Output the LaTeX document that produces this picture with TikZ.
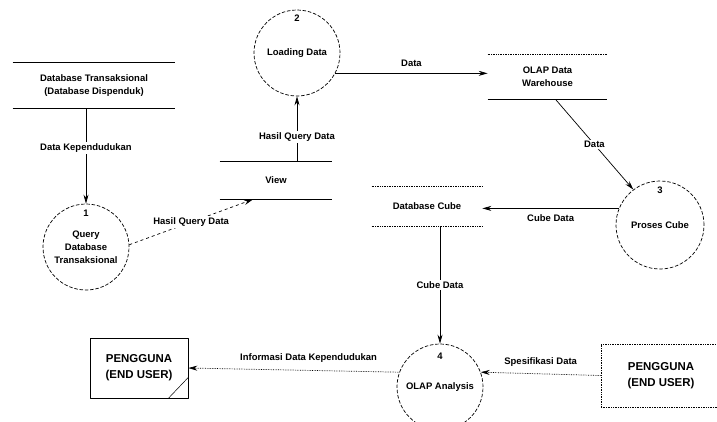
\documentclass[tikz,border=0pt]{standalone}
\usepackage{fontspec}
\setmainfont{Liberation Sans}
\usetikzlibrary{arrows.meta,positioning}

\tikzset{
  proses/.style={draw,circle,dash pattern=on 3.5bp off 1.8bp,minimum size=86bp,inner sep=0pt,align=center},
  nomor/.style={inner sep=0pt},
  simpan/.style={inner sep=0pt,align=center},
  entitas/.style={draw,inner sep=0pt,align=center,font=\fontsize{11.5}{16}\selectfont\bfseries},
  lbl/.style={fill=white,inner sep=1.5bp},
  titik/.style={densely dotted},
}

\begin{document}
\begin{tikzpicture}[>={Stealth[length=9bp,width=5bp]},line join=bevel,x=1bp,y=-1bp,
  line width=0.7bp,font=\fontsize{9.5}{13}\selectfont\bfseries]
\useasboundingbox (0,0) rectangle (717,421);
\clip (0,0) rectangle (717,421);
%% data stores
\node (dbt) at (94,85.5) [simpan,minimum width=162bp,minimum height=45bp] {Database Transaksional\\(Database Dispenduk)};
\node (vw) at (276,180.5) [simpan,minimum width=112bp,minimum height=37bp] {View};
\node (od) at (547.5,77) [simpan,minimum width=119bp,minimum height=44bp] {OLAP Data\\Warehouse};
\node (dc) at (427,206.5) [simpan,minimum width=110bp,minimum height=39bp] {Database Cube};
\draw (dbt.north west) -- (dbt.north east);
\draw (dbt.south west) -- (dbt.south east);
\draw (vw.north west) -- (vw.north east);
\draw (vw.south west) -- (vw.south east);
\draw [titik] (od.north west) -- (od.north east);
\draw (od.south west) -- (od.south east);
\draw [titik] (dc.north west) -- (dc.north east);
\draw [titik] (dc.south west) -- (dc.south east);
%% processes
\node (p1) at (86,247) [proses] {Query\\Database\\Transaksional};
\node (p2) at (297,53) [proses] {Loading Data};
\node (p3) at (660,225) [proses,minimum size=88bp] {Proses Cube};
\node (p4) at (440,387) [proses] {OLAP Analysis};
\node (n1) at ([yshift=-10bp]p1.north) [nomor] {1};
\node (n2) at ([yshift=-9bp]p2.north) [nomor] {2};
\node (n3) at ([yshift=-10bp]p3.north) [nomor] {3};
\node (n4) at ([yshift=-13bp]p4.north) [nomor] {4};
%% external entities
\node (pl) at (139,368) [entitas,minimum width=98bp,minimum height=60bp] {PENGGUNA\\(END USER)};
\node (pr) at (661,375.5) [entitas,titik,minimum width=120bp,minimum height=63bp] {PENGGUNA\\(END USER)};
\draw [line width=0.5bp] ([xshift=-20bp]pl.south east) -- ([yshift=21bp]pl.south east);
%% flows
\draw [->] (p1.north |- dbt.south) -- (p1.north) node [lbl,pos=0.42] {Data Kependudukan};
\draw [->,dashed] (p1.3) -- ([xshift=-23bp]vw.south) node [lbl,midway] {Hasil Query Data};
\draw [->] (p2.south |- vw.north) -- (p2.south) node [lbl,pos=0.38] {Hasil Query Data};
\draw [->] (p2.-28) -- (p2.-28 -| od.west) node [above=3bp,midway] {Data};
\draw [->] ([xshift=8bp]od.south) -- (p3.127) node [lbl,midway] {Data};
\draw [->] (p3.158) -- (p3.158 -| dc.east) node [below=3bp,midway] {Cube Data};
\draw [->] (p4.north |- dc.south) -- (p4.north) node [lbl,midway] {Cube Data};
\draw [->,titik] (pr.west) -- (p4.20) node [above=4bp,midway] {Spesifikasi Data};
\draw [->,titik] (p4.160) -- (pl.east) node [above=4bp,pos=0.43] {Informasi Data Kependudukan};
%
\end{tikzpicture}
\end{document}
